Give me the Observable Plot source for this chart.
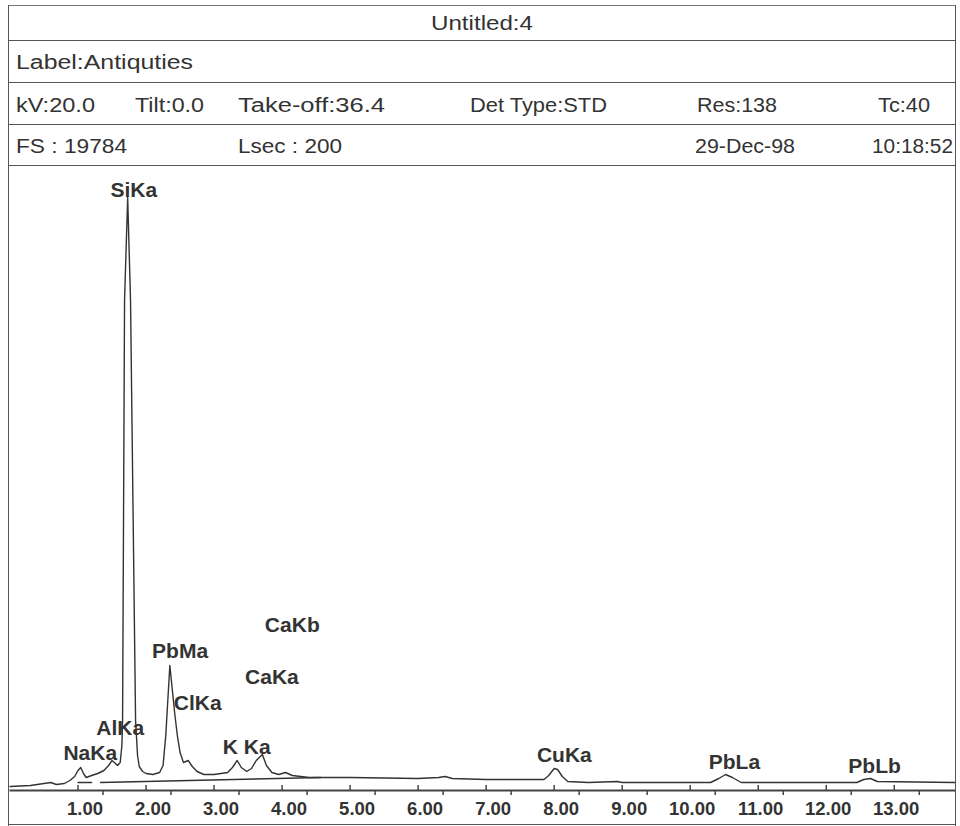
<!DOCTYPE html>
<html>
<head>
<meta charset="utf-8">
<script src="https://cdn.jsdelivr.net/npm/d3@7"></script>
<script src="https://cdn.jsdelivr.net/npm/@observablehq/plot@0.6"></script>
<style>
  html, body { margin: 0; padding: 0; background: #fff; }
  #page { position: relative; width: 960px; height: 826px; overflow: hidden; font-family: "Liberation Sans", Arial, sans-serif; color: #333; }
  .hl { position: absolute; height: 0; border-top: 1.5px solid #555; }
  .vl { position: absolute; width: 0; border-left: 1.5px solid #555; }
  .t { position: absolute; font-size: 20px; line-height: 20px; white-space: nowrap; transform-origin: left center; }
  #chart { position: absolute; left: 8px; top: 165px; }
</style>
</head>
<body>
<div id="page">
  <div id="chart"></div>
  <div class="hl" style="left:8px; width:947px; top:5px; border-top-color:#777;"></div>
  <div class="hl" style="left:8px; width:947px; top:40px;"></div>
  <div class="hl" style="left:8px; width:947px; top:82px;"></div>
  <div class="hl" style="left:8px; width:947px; top:124px;"></div>
  <div class="hl" style="left:8px; width:947px; top:165px;"></div>
  <div class="hl" style="left:8px; width:947px; top:824px;"></div>
  <div class="vl" style="left:8px; top:5px; height:821px;"></div>
  <div class="vl" style="left:955px; top:5px; height:821px;"></div>
  <div id="header"></div>
</div>
<script>
// ---- header texts ----
const titleText = "Untitled:4";
const labelText = "Label:Antiquties";
const row1Texts = ["kV:20.0", "Tilt:0.0", "Take-off:36.4", "Det Type:STD", "Res:138", "Tc:40"];
const row2Texts = ["FS : 19784", "Lsec : 200", "29-Dec-98", "10:18:52"];

// ---- spectrum (energy keV, counts) ----
const energyKeV = [0.00, 0.30, 0.50, 0.60, 0.68, 0.80, 0.88, 0.95, 1.00, 1.04, 1.08, 1.12, 1.20, 1.29, 1.38, 1.45, 1.50, 1.55, 1.58, 1.62, 1.645, 1.655, 1.684, 1.73, 1.772, 1.846, 1.875, 1.90, 1.95, 2.00, 2.10, 2.20, 2.25, 2.29, 2.32, 2.35, 2.38, 2.42, 2.46, 2.50, 2.55, 2.62, 2.68, 2.75, 2.85, 3.00, 3.20, 3.27, 3.34, 3.40, 3.48, 3.55, 3.62, 3.71, 3.77, 3.85, 3.95, 4.05, 4.15, 4.40, 5.00, 6.00, 6.30, 6.40, 6.50, 7.00, 7.85, 7.92, 8.00, 8.05, 8.12, 8.20, 8.50, 8.93, 9.00, 10.30, 10.42, 10.52, 10.62, 10.75, 12.45, 12.55, 12.65, 12.75, 13.90];
const counts    = [128, 160, 224, 256, 192, 224, 320, 448, 640, 736, 544, 416, 480, 544, 640, 800, 960, 864, 800, 896, 1440, 2240, 15680, 18976, 15680, 2240, 1120, 768, 608, 544, 512, 576, 800, 1760, 2880, 4000, 3360, 2496, 1760, 1216, 896, 960, 768, 608, 512, 512, 576, 736, 960, 736, 608, 704, 960, 1152, 800, 576, 512, 576, 480, 416, 416, 384, 416, 448, 384, 352, 352, 480, 704, 672, 448, 288, 256, 288, 256, 256, 384, 512, 416, 256, 256, 352, 384, 288, 256];

// ---- background line ----
const bgKeV     = [1.00, 1.20, 1.33, 4.57];
const bgCounts  = [256, 256, 256, 416];
const bgSegment = ["a", "a", "b", "b"];

// ---- peak labels ----
const peakNames  = ["SiKa", "NaKa", "AlKa", "PbMa", "ClKa", "CaKa", "K Ka", "CaKb", "CuKa", "PbLa", "PbLb"];
const peakKeV    = [1.82, 1.18, 1.62, 2.50, 2.76, 3.85, 3.48, 4.15, 8.15, 10.65, 12.71];
const peakCounts = [19200, 1184, 1984, 4448, 2784, 3616, 1376, 5280, 1120, 896, 768];

// ---- axis ticks ----
const tickKeV = [1, 2, 3, 4, 5, 6, 7, 8, 9, 10, 11, 12, 13];

// ---- header DOM (layout) ----
const header = document.getElementById("header");
function addText(str, left, cy, targetW) {
  const s = document.createElement("div");
  s.className = "t";
  s.textContent = str;
  s.style.left = left + "px";
  s.style.top = cy + "px";
  header.appendChild(s);
  const w = s.getBoundingClientRect().width;
  const k = targetW / w;
  s.style.transform = `translateY(-50%) scaleX(${k})`;
  return s;
}
addText(titleText, 431, 23, 102);
addText(labelText, 16, 62, 177);
const row1Layout = [[16, 79], [135, 69], [238, 147], [470, 137], [697, 80], [878, 52]];
row1Texts.forEach((t, i) => addText(t, row1Layout[i][0], 105, row1Layout[i][1]));
const row2Layout = [[16, 111], [238, 104], [695, 100], [872, 81]];
row2Texts.forEach((t, i) => addText(t, row2Layout[i][0], 146, row2Layout[i][1]));

// ---- chart ----
const spectrum = energyKeV.map((e, i) => ({e, c: counts[i]}));
const background = bgKeV.map((e, i) => ({e, c: bgCounts[i], s: bgSegment[i]}));
const peaks = peakNames.map((n, i) => ({n, e: peakKeV[i], c: peakCounts[i]}));

const chart = Plot.plot({
  width: 947,
  height: 661,
  marginLeft: 1.5,
  marginRight: 0,
  marginTop: 0,
  marginBottom: 36,
  style: {fontFamily: "'Liberation Sans', Arial, sans-serif", color: "#333", background: "transparent"},
  x: {domain: [0, 13.9]},
  y: {domain: [0, 20000], axis: null},
  marks: [
    Plot.ruleY([0], {stroke: "#444", strokeWidth: 2}),
    Plot.ruleX(tickKeV, {y1: 0, y2: 160, stroke: "#444", strokeWidth: 1.5}),
    Plot.axisX({
      ticks: tickKeV,
      tickFormat: d => d.toFixed(2),
      tickSize: 5,
      tickPadding: 6,
      textAnchor: "end",
      dx: 25,
      fontSize: 18.5,
      fontWeight: "bold",
      stroke: "#444",
      strokeWidth: 1.5,
      fill: "#333",
      label: null
    }),
    Plot.line(background, {x: "e", y: "c", z: "s", stroke: "#333", strokeWidth: 1.4}),
    Plot.line(spectrum, {x: "e", y: "c", stroke: "#333", strokeWidth: 1.4}),
    Plot.text(peaks, {x: "e", y: "c", text: "n", fontSize: 21, fontWeight: "bold", fill: "#333"})
  ]
});
document.getElementById("chart").appendChild(chart);
</script>
</body>
</html>
